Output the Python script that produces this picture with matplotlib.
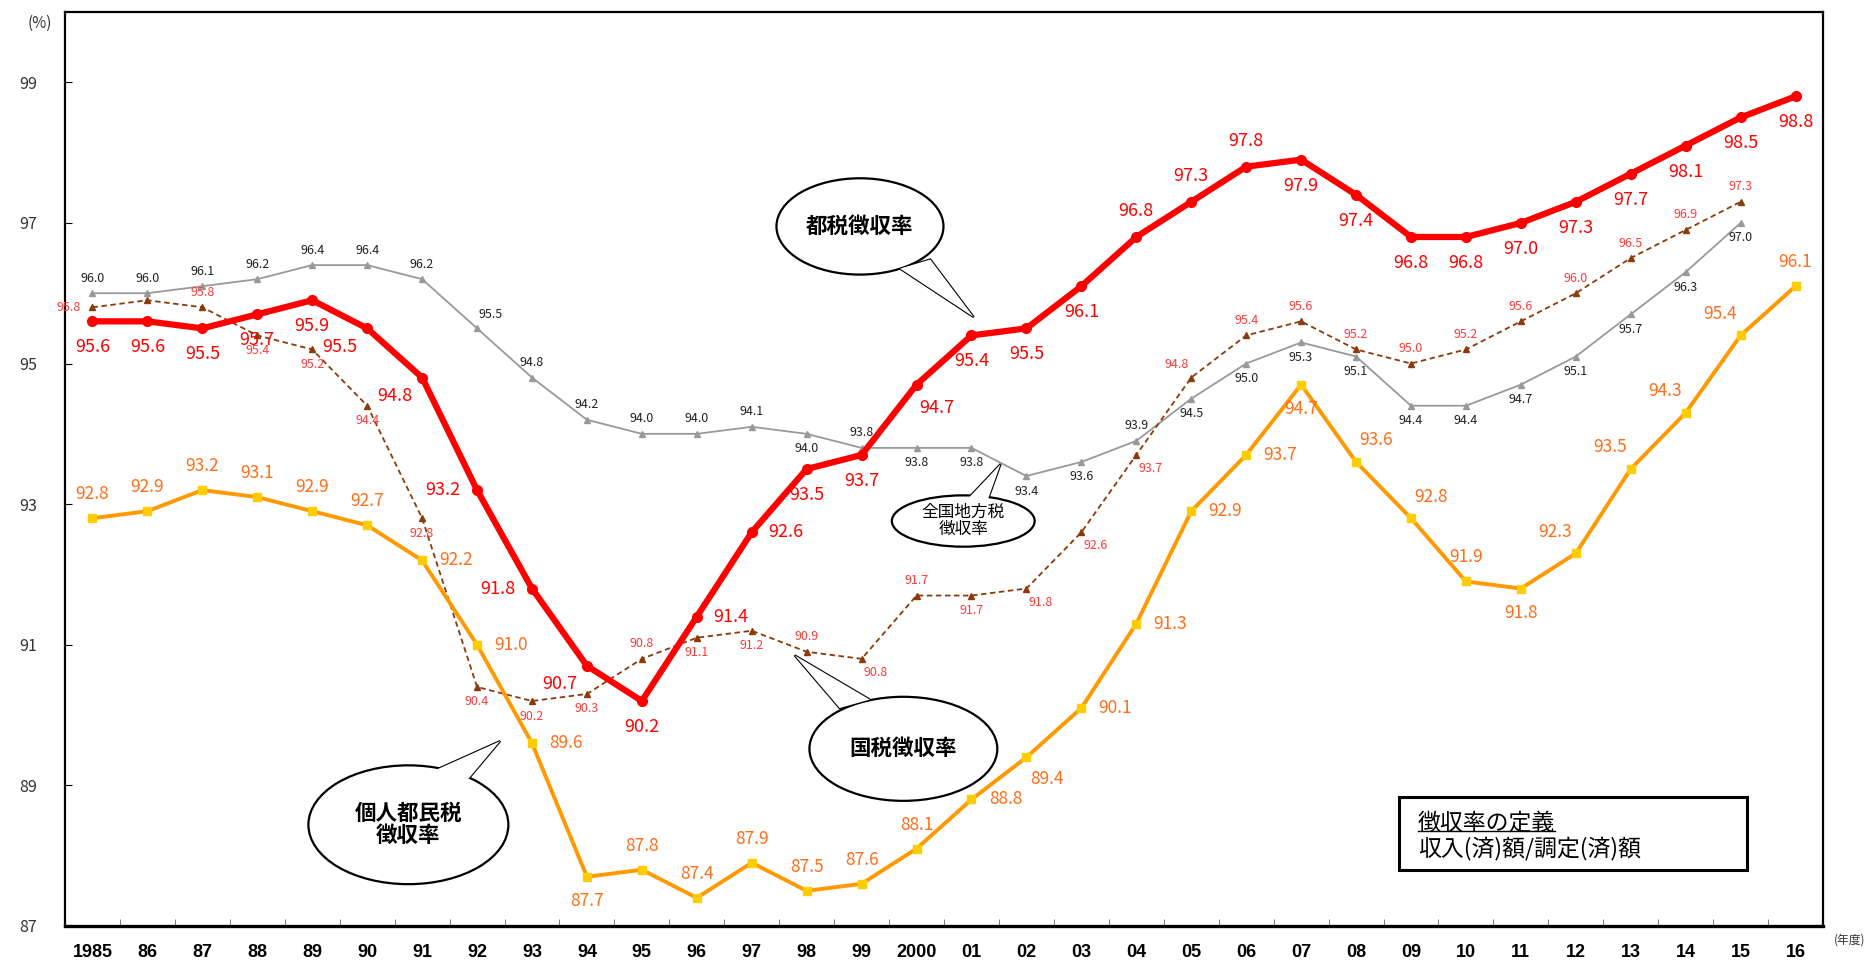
import matplotlib
matplotlib.use("Agg")
import matplotlib.pyplot as plt
from matplotlib.patches import Ellipse, Polygon, Rectangle

plt.rcParams['font.family'] = ['Noto Sans CJK JP', 'DejaVu Sans']

# fiscal years
years = ['1985', '86', '87', '88', '89', '90', '91', '92', '93', '94', '95', '96', '97', '98', '99',
         '2000', '01', '02', '03', '04', '05', '06', '07', '08', '09', '10', '11', '12', '13', '14', '15', '16']

# 都税徴収率
tozei = [95.6, 95.6, 95.5, 95.7, 95.9, 95.5, 94.8, 93.2, 91.8, 90.7, 90.2, 91.4, 92.6, 93.5, 93.7,
         94.7, 95.4, 95.5, 96.1, 96.8, 97.3, 97.8, 97.9, 97.4, 96.8, 96.8, 97.0, 97.3, 97.7, 98.1, 98.5, 98.8]
# 個人都民税徴収率
kojin = [92.8, 92.9, 93.2, 93.1, 92.9, 92.7, 92.2, 91.0, 89.6, 87.7, 87.8, 87.4, 87.9, 87.5, 87.6,
         88.1, 88.8, 89.4, 90.1, 91.3, 92.9, 93.7, 94.7, 93.6, 92.8, 91.9, 91.8, 92.3, 93.5, 94.3, 95.4, 96.1]
# 全国地方税徴収率 (to 2015)
chihou = [96.0, 96.0, 96.1, 96.2, 96.4, 96.4, 96.2, 95.5, 94.8, 94.2, 94.0, 94.0, 94.1, 94.0, 93.8,
          93.8, 93.8, 93.4, 93.6, 93.9, 94.5, 95.0, 95.3, 95.1, 94.4, 94.4, 94.7, 95.1, 95.7, 96.3, 97.0]
# 国税徴収率 (to 2015)
kokuzei = [95.8, 95.9, 95.8, 95.4, 95.2, 94.4, 92.8, 90.4, 90.2, 90.3, 90.8, 91.1, 91.2, 90.9, 90.8,
           91.7, 91.7, 91.8, 92.6, 93.7, 94.8, 95.4, 95.6, 95.2, 95.0, 95.2, 95.6, 96.0, 96.5, 96.9, 97.3]

# label placement codes (layout only)
pos_tozei = ['b', 'b', 'b', 'b', 'b', 'bl', 'bl', 'l', 'l', 'bl', 'b', 'r', 'r', 'b', 'b',
             'br', 'b', 'b', 'b', 'a', 'a', 'a', 'b', 'b', 'b', 'b', 'b', 'b', 'b', 'b', 'b', 'b']
pos_kojin = ['a', 'a', 'a', 'a', 'a', 'a', 'r', 'r', 'r', 'b', 'a', 'a', 'a', 'a', 'a',
             'a', 'r', 'br', 'r', 'r', 'r', 'r', 'b', 'ar', 'ar', 'a', 'b', 'al', 'al', 'al', 'al', 'a']
pos_chihou = ['a', 'a', 'a', 'a', 'a', 'a', 'a', 'ar', 'a', 'a', 'a', 'a', 'a', 'b', 'a',
              'b', 'b', 'b', 'b', 'a', 'b', 'b', 'b', 'b', 'b', 'b', 'b', 'b', 'b', 'b', 'b']
pos_kokuzei = ['l', None, 'a', 'b', 'b', 'b', 'b', 'b', 'b', 'b', 'a', 'b', 'b', 'a', 'br',
               'a', 'b', 'br', 'br', 'br', 'al', 'a', 'a', 'a', 'a', 'a', 'a', 'a', 'a', 'a', 'a']

units = {'a': (0, 1), 'b': (0, -1), 'l': (-1, 0), 'r': (1, 0),
         'al': (-0.6, 0.9), 'ar': (0.6, 0.9), 'bl': (-0.8, -0.7), 'br': (0.6, -0.9)}

fig = plt.figure(figsize=(18.74, 9.67), dpi=100)
ax = fig.add_axes([0.0347, 0.0424, 0.9381, 0.9452])
x = list(range(len(years)))


def put_labels(vals, codes, color, size, dx, dy):
    for i, (v, c) in enumerate(zip(vals, codes)):
        if c is None:
            continue
        ux, uy = units[c]
        ax.annotate(f"{v:.1f}", (i, v), xytext=(ux * dx, uy * dy), textcoords='offset pixels',
                    ha='center', va='center', color=color, fontsize=size, zorder=10)


ax.plot(x[:len(chihou)], chihou, color='#999999', lw=1.3, marker='^', ms=4, zorder=3)
ax.plot(x[:len(kokuzei)], kokuzei, color='#8B3A0A', lw=1.3, ls=(0, (3, 2)), marker='^', ms=4, zorder=3)
ax.plot(x, kojin, color='#FF9900', lw=2.8, marker='s', ms=6, mfc='#FFCC00', mec='#FFCC00', zorder=4)
ax.plot(x, tozei, color='#FF0000', lw=4.5, marker='o', ms=7, zorder=5)

put_labels(tozei, pos_tozei, '#FF0000', 13, 34, 26)
put_labels(kojin, pos_kojin, '#FF6E1A', 12.5, 34, 24)
put_labels(chihou, pos_chihou, '#222222', 9, 22, 15)
put_labels(kokuzei, pos_kokuzei, '#FF3B3B', 9, 24, 15)

ax.set_xlim(-0.5, len(years) - 0.5)
ax.set_ylim(87, 100)
ax.set_yticks([87, 89, 91, 93, 95, 97, 99])
ax.set_yticklabels(['87', '89', '91', '93', '95', '97', '99'], fontsize=11.5, color='#333333')
ax.set_xticks(x)
ax.set_xticklabels(years, fontsize=13, fontweight='bold',
                   family=['Liberation Sans Narrow', 'Liberation Sans', 'DejaVu Sans'])
ax.set_xticks([i + 0.5 for i in x[:-1]], minor=True)
ax.tick_params(axis='x', which='major', length=0, pad=13)
ax.tick_params(axis='x', which='minor', direction='in', length=5, color='#666666')
ax.tick_params(axis='y', direction='in', length=5, pad=20)
for s in ax.spines.values():
    s.set_linewidth(1.6)
ax.spines['bottom'].set_linewidth(2.4)

fig.text(40 / 1874, 1 - 23 / 967, '(%)', ha='center', va='center', fontsize=11, color='#333333')
fig.text(1850 / 1874, 1 - 940 / 967, '(年度)', ha='center', va='center', fontsize=8.5, color='#333333')


def bubble(cx, cy, w, h, tail, text, size, weight):
    ax.add_patch(Polygon(tail, closed=True, fc='white', ec='black', lw=1.6, zorder=11))
    ax.add_patch(Ellipse((cx, cy), w, h, fc='white', ec='black', lw=1.6, zorder=12))
    ax.add_patch(Polygon(tail, closed=True, fc='white', ec='none', lw=0, zorder=13))
    ax.text(cx, cy, text, ha='center', va='center', fontsize=size, fontweight=weight,
            linespacing=1.05, zorder=14)


bubble(13.97, 96.95, 3.04, 1.37, [(14.70, 96.35), (15.25, 96.48), (16.04, 95.66)],
       '都税徴収率', 15.5, 'bold')
bubble(14.76, 89.52, 3.42, 1.48, [(13.60, 90.10), (14.15, 90.22), (12.78, 90.85)],
       '国税徴収率', 15.5, 'bold')
bubble(5.75, 88.44, 3.64, 1.69, [(6.25, 89.22), (6.85, 89.10), (7.42, 89.63)],
       '個人都民税\n徴収率', 15.5, 'bold')
bubble(15.85, 92.76, 2.6, 0.73, [(15.90, 93.05), (16.30, 93.07), (16.53, 93.57)],
       '全国地方税\n徴収率', 12, 'normal')

# definition box
ax.add_patch(Rectangle((0.759, 0.0613), 0.198, 0.0797, transform=ax.transAxes,
                       fc='white', ec='black', lw=2.2, zorder=15))
t1 = ax.text(0.7696, 0.1127, '徴収率の定義', transform=ax.transAxes, ha='left', va='center',
             fontsize=16.5, zorder=16)
ax.text(0.7696, 0.0853, '収入(済)額/調定(済)額', transform=ax.transAxes, ha='left', va='center',
        fontsize=16.5, zorder=16)
fig.canvas.draw()
bb = t1.get_window_extent().transformed(ax.transAxes.inverted())
ax.plot([bb.x0, bb.x1], [bb.y0 + 0.004, bb.y0 + 0.004], transform=ax.transAxes,
        color='black', lw=1, zorder=16)

fig.savefig('out.png', dpi=100)
